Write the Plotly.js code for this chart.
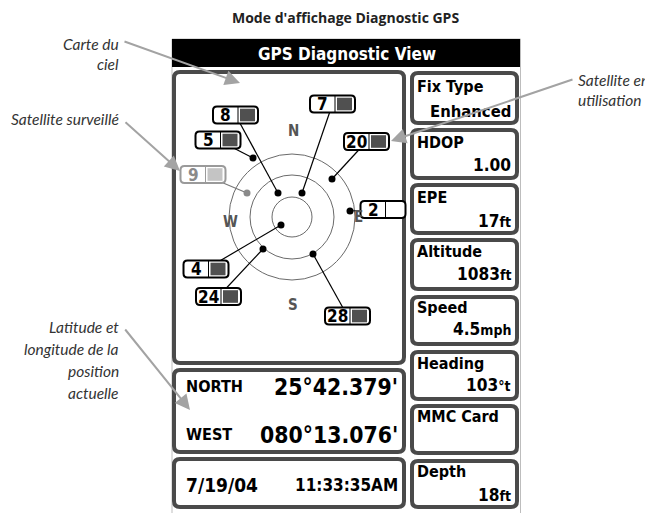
<!DOCTYPE html>
<html><head><meta charset="utf-8">
<script src="https://cdn.plot.ly/plotly-3.0.1.min.js"></script>
<style>html,body{margin:0;padding:0;background:#fff;}#chart{width:645px;height:513px;}</style>
</head><body><div id="chart"></div>
<script>
// ---------------- data ----------------
const satIds     = ['8', '7', '5', '20', '9', '2', '4', '24', '28'];
const satEast    = [-14, 10, -39, 40, -45, 58, -11, -29, 21];
const satNorth   = [24, 24, 59, 38, 24, 6, -8, -32, -37];
const satStatus  = ['used', 'used', 'used', 'used', 'tracked', 'nosignal', 'used', 'used', 'used'];
const labelEast  = [-56.5, 40.5, -74, 74.5, -89, 91, -86, -73.5, 55.5];
const labelNorth = [102, 113, 77, 75.5, 42.5, 7.5, -52, -79.5, -99];
const ringRadius = [20, 42, 63];
const compassLetters = ['N', 'S', 'W', 'E'];
const compassEast    = [1, 1, -62, 66];
const compassNorth   = [86.5, -88, -5, 0];

const fieldNames  = ['Fix Type', 'HDOP', 'EPE', 'Altitude', 'Speed', 'Heading', 'MMC Card', 'Depth'];
const fieldValues = ['Enhanced', '1.00', '17', '1083', '4.5', '103', '', '18'];
const fieldUnits  = ['', '', 'ft', 'ft', 'mph', '°t', '', 'ft'];

const posLabels = ['NORTH', 'WEST'];
const posValues = ['25°42.379\'', '080°13.076\''];
const dateText = '7/19/04';
const timeText = '11:33:35AM';

const pageTitle = 'Mode d\'affichage Diagnostic GPS';
const screenTitle = 'GPS Diagnostic View';
const calloutLeft = [['Carte du', 'ciel'], ['Satellite surveillé'], ['Latitude et', 'longitude de la', 'position', 'actuelle']];
const calloutRight = ['Satellite en', 'utilisation'];

// ---------------- font helpers ----------------
const ctx = document.createElement('canvas').getContext('2d');
function fontAvailable(name) {
  const s = 'mmmmmmmmmmlli1WQ0123456789';
  return ['monospace', 'serif'].some(b => {
    ctx.font = `72px ${b}`; const w0 = ctx.measureText(s).width;
    ctx.font = `72px "${name}", ${b}`; return Math.abs(ctx.measureText(s).width - w0) > 0.5;
  });
}
function pick(list) { for (const f of list) if (fontAvailable(f)) return f; return list[list.length - 1]; }
function fitSize(text, family, weight, style, width, maxSize) {
  ctx.font = `${style} ${weight} 100px "${family}"`;
  const w = ctx.measureText(text).width;
  return Math.min(maxSize, 100 * width / w);
}
const narrowName = pick(['Liberation Sans Narrow', 'Arial Narrow', 'Noto Sans Condensed', 'Noto Sans SemiCondensed', 'DejaVu Sans Condensed']);
const noteName = pick(['Liberation Sans Narrow', 'Noto Sans Condensed', 'Noto Sans SemiCondensed', 'Lato', 'Roboto']);
const PIX = '"DejaVu Sans Condensed", "DejaVu Sans", sans-serif';
const NARROW = `"${narrowName}", "DejaVu Sans Condensed", sans-serif`;
const NOTE = `"${noteName}", Lato, sans-serif`;
const coordSize = fitSize(posValues[0], narrowName, 700, 'normal', 124, 31);
const posLabelSize = fitSize(posLabels[0], narrowName, 700, 'normal', 57, 19);
const valueSize = fitSize(fieldValues[3], narrowName, 700, 'normal', 43, 21);
const noteSize = fitSize(calloutLeft[1][0], noteName, 400, 'italic', 108, 17);

// ---------------- layout helpers ----------------
const W = 645, H = 513;
const CX = 292, CY = 217;

function rr(x0, y0, x1, y1, r) {
  return `M${x0 + r},${y0} L${x1 - r},${y0} Q${x1},${y0} ${x1},${y0 + r} L${x1},${y1 - r} Q${x1},${y1} ${x1 - r},${y1} ` +
         `L${x0 + r},${y1} Q${x0},${y1} ${x0},${y1 - r} L${x0},${y0 + r} Q${x0},${y0} ${x0 + r},${y0} Z`;
}

const shapes = [];
const annotations = [];

shapes.push({type: 'rect', xref: 'x', yref: 'y', x0: 172, x1: 520.5, y0: 39, y1: 540,
  line: {color: '#bdbdbd', width: 1}, fillcolor: 'rgba(0,0,0,0)', layer: 'below'});
shapes.push({type: 'rect', xref: 'x', yref: 'y', x0: 172, x1: 520, y0: 39, y1: 67,
  line: {width: 0}, fillcolor: '#000', layer: 'below'});

const BORDER = '#4a4a4a';
function panel(x0, x1, y0, y1) {
  shapes.push({type: 'path', xref: 'x', yref: 'y', path: rr(x0 + 2, y0 + 2, x1 - 2, y1 - 2, 6),
    line: {color: BORDER, width: 4}, fillcolor: '#fff', layer: 'below'});
}
const leftPanels = [[70, 365], [368, 454], [457, 509]];
const rightPanels = [[71, 125], [128, 180], [183, 235], [238, 291], [295, 346], [350, 401], [404, 455], [459, 509]];
leftPanels.forEach(p => panel(172, 406, p[0], p[1]));
rightPanels.forEach(p => panel(410, 519, p[0], p[1]));

ringRadius.forEach(r => shapes.push({type: 'circle', xref: 'x2', yref: 'y2', x0: -r, x1: r, y0: -r, y1: r,
  line: {color: '#6a6a6a', width: 1}, layer: 'below'}));

const LW = 45, LH = 17;
satIds.forEach((id, i) => {
  const st = satStatus[i];
  const edge = st === 'tracked' ? '#9a9a9a' : '#000';
  const x0 = labelEast[i] - LW / 2, x1 = labelEast[i] + LW / 2;
  const y0 = labelNorth[i] - LH / 2, y1 = labelNorth[i] + LH / 2;
  shapes.push({type: 'path', xref: 'x2', yref: 'y2', path: rr(x0, y0, x1, y1, 4),
    line: {color: edge, width: 2}, fillcolor: '#fff', layer: 'above'});
  shapes.push({type: 'line', xref: 'x2', yref: 'y2', x0: x0 + 25, x1: x0 + 25, y0: y0, y1: y1,
    line: {color: edge, width: 1}, layer: 'above'});
  if (st !== 'nosignal') {
    shapes.push({type: 'rect', xref: 'x2', yref: 'y2', x0: x0 + 27, x1: x0 + 42, y0: y0 + 2.2, y1: y1 - 2.2,
      line: {width: 0}, fillcolor: st === 'tracked' ? '#c4c4c4' : '#505050', layer: 'above'});
  }
  annotations.push({xref: 'x2', yref: 'y2', x: x0 + 12.5, y: labelNorth[i], text: id, showarrow: false,
    xanchor: 'center', yanchor: 'middle',
    font: {family: PIX, size: 17, weight: 700, color: st === 'tracked' ? '#8a8a8a' : '#000'}});
});

compassLetters.forEach((c, i) => annotations.push({xref: 'x2', yref: 'y2', x: compassEast[i], y: compassNorth[i],
  text: c, showarrow: false, xanchor: 'center', yanchor: 'middle',
  font: {family: PIX, size: 15, weight: 700, color: '#555'}}));

function txt(x, y, text, anchor, font) {
  annotations.push({xref: 'x', yref: 'y', x: x, y: y, text: text, showarrow: false,
    xanchor: anchor, yanchor: 'middle', font: font});
}
txt(345, 17, pageTitle, 'center', {family: '"Open Sans", sans-serif', size: 14, weight: 700, color: '#222'});
txt(346.5, 54, screenTitle, 'center', {family: PIX, size: 17, weight: 700, color: '#fff'});

const nameY  = [86.5, 142, 197.5, 251.5, 307.5, 363, 416.5, 471.5];
const valueY = [111, 164.5, 220.5, 273.5, 329, 384.5, 0, 494.5];
fieldNames.forEach((n, i) => {
  txt(415, nameY[i], n, 'left', {family: PIX, size: 16, weight: 700, color: '#000'});
  if (fieldValues[i] !== '') {
    if (i === 0) {
      txt(513, valueY[i], fieldValues[i], 'right', {family: PIX, size: 16.5, weight: 700, color: '#000'});
    } else {
      const t = fieldValues[i] + (fieldUnits[i] ? `<span style="font-family:'DejaVu Sans Condensed';font-size:14px">${fieldUnits[i]}</span>` : '');
      txt(513, valueY[i], t, 'right', {family: NARROW, size: valueSize, weight: 700, color: '#000'});
    }
  }
});

const posY = [386.5, 434.5];
posLabels.forEach((l, i) => {
  txt(184, posY[i], l, 'left', {family: NARROW, size: posLabelSize, weight: 700, color: '#000'});
  txt(400, posY[i], posValues[i], 'right', {family: NARROW, size: coordSize, weight: 700, color: '#000'});
});
txt(184, 484.5, dateText, 'left', {family: PIX, size: 19, weight: 700, color: '#000'});
txt(400, 484.5, timeText, 'right', {family: PIX, size: 17, weight: 700, color: '#000'});

const noteFont = {family: NOTE, size: noteSize, style: 'italic', color: '#333'};
const leftY = [[44, 64], [119], [327, 349, 371, 393]];
calloutLeft.forEach((lines, k) => lines.forEach((l, j) => txt(121, leftY[k][j], l, 'right', noteFont)));
calloutRight.forEach((l, j) => txt(576, [80, 100][j], l, 'left', noteFont));
const arrows = [[123, 41, 240, 83], [124, 121, 180, 171], [124, 328, 190, 410], [574, 79, 391, 141]];
arrows.forEach(a => annotations.push({xref: 'x', yref: 'y', axref: 'x', ayref: 'y', ax: a[0], ay: a[1], x: a[2], y: a[3],
  text: '', showarrow: true, arrowhead: 2, arrowsize: 1.5, arrowwidth: 2, arrowcolor: '#a3a3a3', standoff: 0}));

// ---------------- traces ----------------
function leaderXY(pred) {
  const xs = [], ys = [];
  satIds.forEach((id, i) => { if (pred(i)) { xs.push(labelEast[i], satEast[i], null); ys.push(labelNorth[i], satNorth[i], null); } });
  return {xs, ys};
}
const lu = leaderXY(i => satStatus[i] !== 'tracked');
const lt = leaderXY(i => satStatus[i] === 'tracked');
const traces = [
  {type: 'scatter', x: [], y: [], xaxis: 'x', yaxis: 'y', hoverinfo: 'skip'},
  {type: 'scatter', mode: 'lines', x: lu.xs, y: lu.ys, xaxis: 'x2', yaxis: 'y2', line: {color: '#000', width: 1.2}, hoverinfo: 'skip'},
  {type: 'scatter', mode: 'lines', x: lt.xs, y: lt.ys, xaxis: 'x2', yaxis: 'y2', line: {color: '#777', width: 1.2}, hoverinfo: 'skip'},
  {type: 'scatter', mode: 'markers', x: satEast, y: satNorth, xaxis: 'x2', yaxis: 'y2',
    marker: {size: 7, color: satStatus.map(s => s === 'tracked' ? '#8a8a8a' : '#000')}, hoverinfo: 'skip'}
];

const layout = {
  width: W, height: H, margin: {l: 0, r: 0, t: 0, b: 0}, showlegend: false,
  paper_bgcolor: '#fff', plot_bgcolor: '#fff',
  xaxis: {range: [0, W], visible: false, fixedrange: true},
  yaxis: {range: [H, 0], visible: false, fixedrange: true},
  xaxis2: {range: [-CX, W - CX], overlaying: 'x', anchor: 'y2', visible: false},
  yaxis2: {range: [-(H - CY), CY], overlaying: 'y', anchor: 'x2', visible: false},
  shapes: shapes, annotations: annotations
};
Plotly.newPlot('chart', traces, layout, {staticPlot: true, displayModeBar: false});
</script></body></html>
